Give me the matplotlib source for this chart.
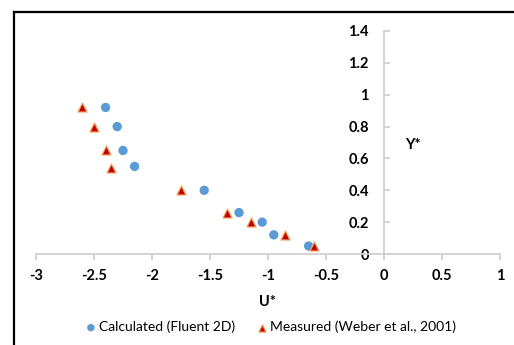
import matplotlib.pyplot as plt
from matplotlib.lines import Line2D

plt.rcParams['font.family'] = ['Lato', 'DejaVu Sans']

# Calculated (Fluent 2D)
calc_u = [-2.40, -2.30, -2.25, -2.15, -1.55, -1.25, -1.05, -0.95, -0.65]
calc_y = [0.92, 0.80, 0.65, 0.55, 0.40, 0.26, 0.20, 0.12, 0.05]

# Measured (Weber et al., 2001)
meas_u = [-2.60, -2.50, -2.40, -2.35, -1.75, -1.35, -1.15, -0.85, -0.60]
meas_y = [0.92, 0.80, 0.65, 0.54, 0.40, 0.26, 0.20, 0.12, 0.05]

x_ticks = [-3, -2.5, -2, -1.5, -1, -0.5, 0, 0.5, 1]
y_ticks = [0, 0.2, 0.4, 0.6, 0.8, 1, 1.2, 1.4]

W, H = 514, 345
fig = plt.figure(figsize=(W / 100, H / 100), dpi=100)
ax = fig.add_axes([36 / W, (H - 254) / H, 464 / W, 223 / H])

ax.scatter(calc_u, calc_y, s=45, color='#5B9BD5', edgecolors='none',
           label='Calculated (Fluent 2D)', zorder=3)
ax.scatter(meas_u, meas_y, s=42, marker='^', color='#C00000',
           edgecolors='#F4A460', linewidths=0.9,
           label='Measured (Weber et al., 2001)', zorder=4)

ax.set_xlim(-3, 1)
ax.set_ylim(0, 1.4)

gray = '#D0D0D0'
ax.spines['left'].set_position(('data', 0))
ax.spines['bottom'].set_position(('data', 0))
for s in ['top', 'right']:
    ax.spines[s].set_visible(False)
for s in ['left', 'bottom']:
    ax.spines[s].set_color(gray)
    ax.spines[s].set_linewidth(1.3)

ax.set_xticks(x_ticks)
ax.set_xticklabels([f'{v:g}' for v in x_ticks])
ax.set_yticks(y_ticks)
ax.set_yticklabels([f'{v:g}' for v in y_ticks])
ax.tick_params(axis='x', direction='out', length=4, width=1.3, color=gray,
               pad=7, labelsize=10.5)
ax.tick_params(axis='y', direction='in', length=4, width=1.3, color=gray,
               pad=11, labelsize=10.5)
for lab in ax.get_xticklabels() + ax.get_yticklabels():
    lab.set_fontweight('bold')

fig.text(413 / W, 1 - 145 / H, 'Y*', ha='center', va='center',
         fontsize=10.5, fontweight='bold')
fig.text(267 / W, 1 - 302 / H, 'U*', ha='center', va='center',
         fontsize=10.5, fontweight='bold')

fig.legend(loc='center', bbox_to_anchor=(270 / W, 1 - 327 / H), ncol=2,
           frameon=False, fontsize=10, handletextpad=0.05, handlelength=1.0,
           columnspacing=1.5, markerscale=0.8)

# outer frame (left and top edges visible)
fig.add_artist(Line2D([13.5 / W, 13.5 / W], [-0.1, 1 - 11.5 / H],
                      transform=fig.transFigure, color='black', lw=1.6))
fig.add_artist(Line2D([13.5 / W, 1.1], [1 - 11.5 / H, 1 - 11.5 / H],
                      transform=fig.transFigure, color='black', lw=1.6))

fig.savefig('out.png', dpi=100)
